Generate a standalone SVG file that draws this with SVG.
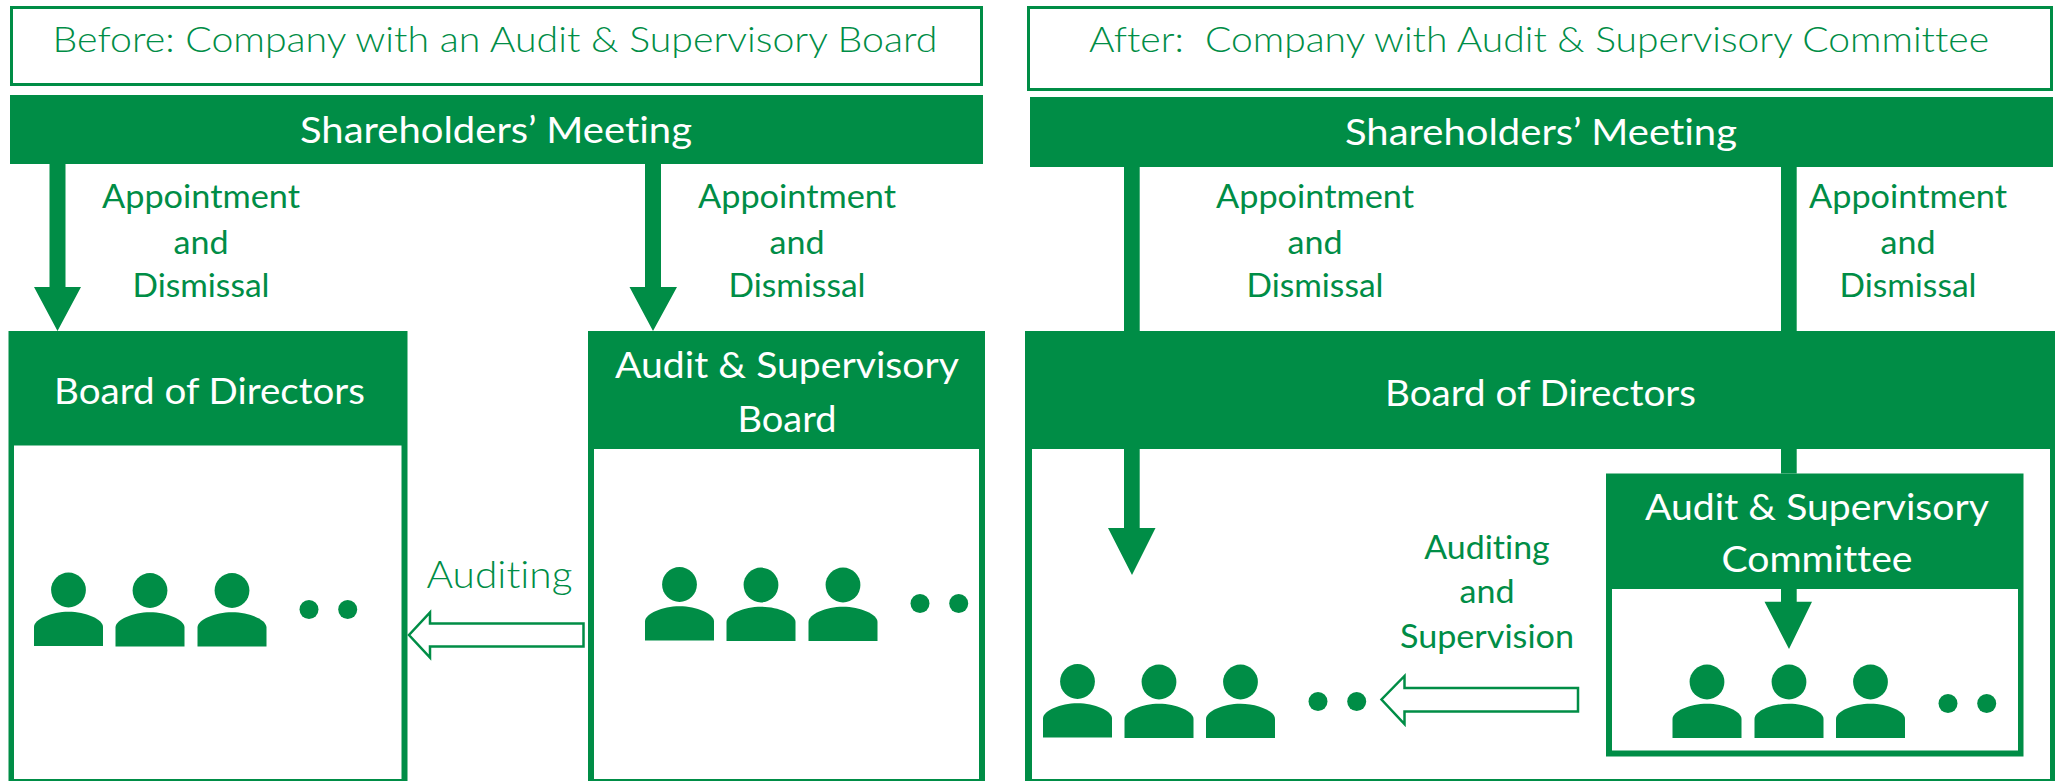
<svg xmlns="http://www.w3.org/2000/svg" width="2060" height="781" viewBox="0 0 2060 781">
<style>
.t{font-family:Lato,"Open Sans","Liberation Sans",sans-serif;text-anchor:middle;white-space:pre;font-variant-ligatures:none}
.g{fill:#008d46}
.w{fill:#fff}
.lab{font-size:32.5px;fill:#008d46}
.ttl{font-size:35px;fill:#008d46;font-weight:300}
.hd{font-size:37px;fill:#fff}
.box{fill:#fff;stroke:#008d46}
.open{fill:#fff;stroke:#008d46;stroke-width:2.5}
</style>
<defs>
<g id="person" class="g">
<circle cx="0" cy="0" r="17.4"/>
<path d="M-34.5,56 V37 C-34.5,29 -17,21.7 0,21.7 C17,21.7 34.5,29 34.5,37 V56 Z"/>
</g>
<g id="dots" class="g"><circle cx="0" cy="0" r="9.5"/><circle cx="38.7" cy="0" r="9.5"/></g>
</defs>
<rect width="2060" height="781" fill="#fff"/>

<g id="title-before">
<rect class="box" x="11.5" y="7.5" width="970" height="77" stroke-width="3"/>
<text class="t ttl" x="495" y="52" textLength="885" lengthAdjust="spacingAndGlyphs">Before: Company with an Audit &amp; Supervisory Board</text>
</g>
<g id="shareholders-before">
<rect class="g" x="10" y="95" width="973" height="69"/>
<text class="t hd" x="496" y="143" textLength="392" lengthAdjust="spacingAndGlyphs">Shareholders’ Meeting</text>
</g>
<g id="board-before">
<rect class="g" x="8.5" y="331" width="399" height="450"/>
<rect class="w" x="14" y="445.5" width="387.5" height="333.5"/>
<text class="t hd" x="209.5" y="404" textLength="311" lengthAdjust="spacingAndGlyphs">Board of Directors</text>
<use href="#person" x="68.5" y="590"/><use href="#person" x="150" y="590.5"/><use href="#person" x="232" y="590.5"/>
<use href="#dots" x="309" y="609.5"/>
</g>
<g id="audit-before">
<rect class="g" x="588" y="331" width="397" height="450"/>
<rect class="w" x="594" y="449" width="385" height="330"/>
<text class="t hd" x="787" y="378" textLength="344" lengthAdjust="spacingAndGlyphs">Audit &amp; Supervisory</text>
<text class="t hd" x="787" y="431.5" textLength="99" lengthAdjust="spacingAndGlyphs">Board</text>
<use href="#person" x="679.5" y="584.5"/><use href="#person" x="761" y="585"/><use href="#person" x="843" y="585"/>
<use href="#dots" x="920" y="603.5"/>
</g>

<g id="title-after">
<rect class="box" x="1028.5" y="7.5" width="1023" height="82" stroke-width="3"/>
<text class="t ttl" x="1539" y="52" textLength="900" lengthAdjust="spacingAndGlyphs">After:  Company with Audit &amp; Supervisory Committee</text>
</g>
<g id="shareholders-after">
<rect class="g" x="1030" y="97" width="1023" height="70"/>
<text class="t hd" x="1541" y="145" textLength="392" lengthAdjust="spacingAndGlyphs">Shareholders’ Meeting</text>
</g>
<g id="board-after">
<rect class="g" x="1025" y="331" width="1030" height="450"/>
<rect class="w" x="1032" y="449" width="1018" height="330"/>
<text class="t hd" x="1540.5" y="406" textLength="311" lengthAdjust="spacingAndGlyphs">Board of Directors</text>
<use href="#person" x="1077.5" y="681.5"/><use href="#person" x="1159" y="682"/><use href="#person" x="1240.5" y="682"/>
<use href="#dots" x="1318" y="701.5"/>
</g>
<g id="committee-after">
<rect class="g" x="1606" y="473.5" width="417.5" height="283"/>
<rect class="w" x="1612" y="589" width="406" height="161.5"/>
<text class="t hd" x="1817" y="520" textLength="344" lengthAdjust="spacingAndGlyphs">Audit &amp; Supervisory</text>
<text class="t hd" x="1817" y="571.5" textLength="191" lengthAdjust="spacingAndGlyphs">Committee</text>
<use href="#person" x="1707" y="682"/><use href="#person" x="1789" y="682"/><use href="#person" x="1870.5" y="682"/>
<use href="#dots" x="1948" y="703.5"/>
</g>

<g id="connectors">
<g class="g">
<path d="M49.5,164 H65.5 V287 H81 L57.5,331 L34,287 H49.5 Z"/>
<path d="M645,164 H661 V287 H677 L653,331 L629.5,287 H645 Z"/>
<rect x="1124" y="167" width="15.7" height="164"/>
<rect x="1781" y="167" width="15.7" height="164"/>
<path d="M1124,449 H1139.7 V528 H1155.5 L1132,575 L1108,528 H1124 Z"/>
<rect x="1781" y="449" width="15.7" height="24.5"/>
<path d="M1781,589 H1796.7 V601.7 H1812 L1789,649 L1764.5,601.7 H1781 Z"/>
</g>
<path class="open" d="M583.5,623.5 V646.5 H430 V657.5 L409,635 L430,612.5 V623.5 Z"/>
<path class="open" d="M1578,688 V711.5 H1404.5 V724 L1381.5,699.5 L1404.5,676 V688 Z"/>
</g>

<g id="labels">
<text class="t lab" x="201" y="208" textLength="198" lengthAdjust="spacingAndGlyphs">Appointment</text>
<text class="t lab" x="201" y="254" textLength="55" lengthAdjust="spacingAndGlyphs">and</text>
<text class="t lab" x="201" y="297" textLength="137" lengthAdjust="spacingAndGlyphs">Dismissal</text>
<text class="t lab" x="797" y="208" textLength="198" lengthAdjust="spacingAndGlyphs">Appointment</text>
<text class="t lab" x="797" y="254" textLength="55" lengthAdjust="spacingAndGlyphs">and</text>
<text class="t lab" x="797" y="297" textLength="137" lengthAdjust="spacingAndGlyphs">Dismissal</text>
<text class="t lab" x="1315" y="208" textLength="198" lengthAdjust="spacingAndGlyphs">Appointment</text>
<text class="t lab" x="1315" y="254" textLength="55" lengthAdjust="spacingAndGlyphs">and</text>
<text class="t lab" x="1315" y="297" textLength="137" lengthAdjust="spacingAndGlyphs">Dismissal</text>
<text class="t lab" x="1908" y="208" textLength="198" lengthAdjust="spacingAndGlyphs">Appointment</text>
<text class="t lab" x="1908" y="254" textLength="55" lengthAdjust="spacingAndGlyphs">and</text>
<text class="t lab" x="1908" y="297" textLength="137" lengthAdjust="spacingAndGlyphs">Dismissal</text>
<text class="t lab" x="499.5" y="588" style="font-size:37px;font-weight:300" textLength="146" lengthAdjust="spacingAndGlyphs">Auditing</text>
<text class="t lab" x="1487" y="559" textLength="125.5" lengthAdjust="spacingAndGlyphs">Auditing</text>
<text class="t lab" x="1487" y="603" textLength="55" lengthAdjust="spacingAndGlyphs">and</text>
<text class="t lab" x="1487" y="648" textLength="174" lengthAdjust="spacingAndGlyphs">Supervision</text>
</g>
</svg>
